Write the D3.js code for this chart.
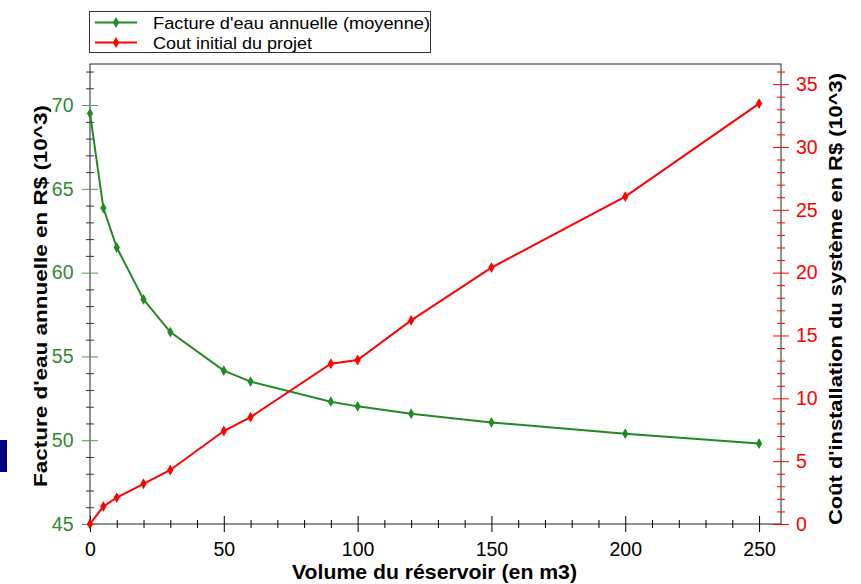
<!DOCTYPE html>
<html>
<head>
<meta charset="utf-8">
<script src="https://cdn.jsdelivr.net/npm/d3@7"></script>
<style>
  body { margin: 0; background: #fff; }
  text { font-family: "Liberation Sans", Arial, sans-serif; }
</style>
</head>
<body>
<svg width="861" height="584"></svg>
<script>
// volume du réservoir (m3)
var volumes = [0, 5, 10, 20, 30, 50, 60, 90, 100, 120, 150, 200, 250];
// facture d'eau annuelle (10^3 R$)
var facture = [69.5, 63.85, 61.5, 58.4, 56.45, 54.15, 53.5, 52.3, 52.02, 51.58, 51.06, 50.39, 49.8];
// cout initial du projet (10^3 R$)
var cout = [0, 1.4, 2.1, 3.2, 4.3, 7.4, 8.5, 12.75, 13.05, 16.2, 20.4, 26.05, 33.45];

var xTicks = [0, 50, 100, 150, 200, 250];
var leftTicks = [45, 50, 55, 60, 65, 70];
var rightTicks = [0, 5, 10, 15, 20, 25, 30, 35];

var green = "#228a22", red = "#ff0000", greenLbl = "#2f8a2f";
var fam = "Liberation Sans, Arial, sans-serif";

var svg = d3.select("svg");
var L = 90, R = 781, T = 64, B = 524;

var x = d3.scaleLinear().domain([0, 258.2]).range([L, R]);
var yL = d3.scaleLinear().domain([45, 72.45]).range([B, T]);
var yR = d3.scaleLinear().domain([0, 36.6]).range([B, T]);

// marque bleue a gauche
svg.append("rect").attr("x", 0).attr("y", 440).attr("width", 7).attr("height", 32).attr("fill", "#000080");

// cadre
svg.append("rect").attr("x", L).attr("y", T).attr("width", R - L).attr("height", B - T)
  .attr("fill", "none").attr("stroke", "#222").attr("stroke-width", 1);

// axe x
var minorX = d3.range(0, 259, 10).filter(function(d) { return d % 50 !== 0; });
svg.append("g").attr("transform", "translate(0," + B + ")")
  .call(d3.axisBottom(x).tickValues(minorX).tickSize(4).tickFormat(""))
  .call(function(g) { g.select(".domain").remove(); g.selectAll("line").attr("stroke", "#000").attr("y1", -4); });
var gx = svg.append("g").attr("transform", "translate(0," + B + ")")
  .call(d3.axisBottom(x).tickValues(xTicks).tickSize(8).tickPadding(10));
gx.select(".domain").remove();
gx.selectAll("line").attr("stroke", "#000").attr("y1", -8);
gx.selectAll("text").attr("font-size", 19.5).attr("fill", "#000").attr("font-family", fam);

// axe gauche
var minorL = d3.range(45, 73, 1).filter(function(d) { return d % 5 !== 0; });
svg.append("g").attr("transform", "translate(" + L + ",0)")
  .call(d3.axisLeft(yL).tickValues(minorL).tickSize(4).tickFormat(""))
  .call(function(g) { g.select(".domain").remove(); g.selectAll("line").attr("stroke", "#333").attr("x1", 4); });
var gl = svg.append("g").attr("transform", "translate(" + L + ",0)")
  .call(d3.axisLeft(yL).tickValues(leftTicks).tickSize(8).tickPadding(8.5));
gl.select(".domain").remove();
gl.selectAll("line").attr("stroke", "#4a9a4a").attr("x1", 8);
gl.selectAll("text").attr("font-size", 19.5).attr("fill", greenLbl).attr("font-family", fam);

// axe droit
var minorR = d3.range(0, 37, 1).filter(function(d) { return d % 5 !== 0; });
svg.append("g").attr("transform", "translate(" + R + ",0)")
  .call(d3.axisRight(yR).tickValues(minorR).tickSize(4).tickFormat(""))
  .call(function(g) { g.select(".domain").remove(); g.selectAll("line").attr("stroke", red).attr("x1", -4); });
var gr = svg.append("g").attr("transform", "translate(" + R + ",0)")
  .call(d3.axisRight(yR).tickValues(rightTicks).tickSize(8).tickPadding(7));
gr.select(".domain").remove();
gr.selectAll("line").attr("stroke", red).attr("x1", -8);
gr.selectAll("text").attr("font-size", 19.5).attr("fill", red).attr("font-family", fam);

// titres des axes
svg.append("text").attr("x", 434.5).attr("y", 579).attr("text-anchor", "middle")
  .attr("font-size", 21).attr("font-weight", "bold")
  .attr("textLength", 285).attr("lengthAdjust", "spacingAndGlyphs")
  .text("Volume du réservoir (en m3)");
svg.append("text").attr("transform", "translate(47,296) rotate(-90)").attr("text-anchor", "middle")
  .attr("font-size", 19).attr("font-weight", "bold")
  .attr("textLength", 382).attr("lengthAdjust", "spacingAndGlyphs")
  .text("Facture d'eau annuelle en R$ (10^3)");
svg.append("text").attr("transform", "translate(842,299) rotate(-90)").attr("text-anchor", "middle")
  .attr("font-size", 19).attr("font-weight", "bold")
  .attr("textLength", 452).attr("lengthAdjust", "spacingAndGlyphs")
  .text("Coût d'installation du système en R$ (10^3)");

// series
var series = [
  { name: "Facture d'eau annuelle (moyenne)", len: 277, values: facture, y: yL, color: green },
  { name: "Cout initial du projet", len: 159, values: cout, y: yR, color: red }
];
var diamond = d3.symbol().type(d3.symbolDiamond).size(34);

series.forEach(function(s) {
  var line = d3.line().x(function(d, i) { return x(volumes[i]); }).y(function(d) { return s.y(d); });
  svg.append("path").datum(s.values).attr("d", line)
    .attr("fill", "none").attr("stroke", s.color).attr("stroke-width", 2);
  svg.append("g").selectAll("path").data(s.values).enter().append("path")
    .attr("d", diamond).attr("fill", s.color)
    .attr("transform", function(d, i) { return "translate(" + x(volumes[i]) + "," + s.y(d) + ")"; });
});

// legende
var lg = svg.append("g");
lg.append("rect").attr("x", 89.5).attr("y", 11.5).attr("width", 341).attr("height", 41)
  .attr("fill", "#fff").attr("stroke", "#333").attr("stroke-width", 1);
series.forEach(function(s, i) {
  var yy = 22.5 + i * 20;
  lg.append("line").attr("x1", 95).attr("x2", 137).attr("y1", yy).attr("y2", yy)
    .attr("stroke", s.color).attr("stroke-width", 2);
  lg.append("path").attr("d", diamond).attr("fill", s.color)
    .attr("transform", "translate(116," + yy + ")");
  lg.append("text").attr("x", 153).attr("y", yy + 6).attr("font-size", 17)
    .attr("textLength", s.len).attr("lengthAdjust", "spacingAndGlyphs").text(s.name);
});
</script>
</body>
</html>
